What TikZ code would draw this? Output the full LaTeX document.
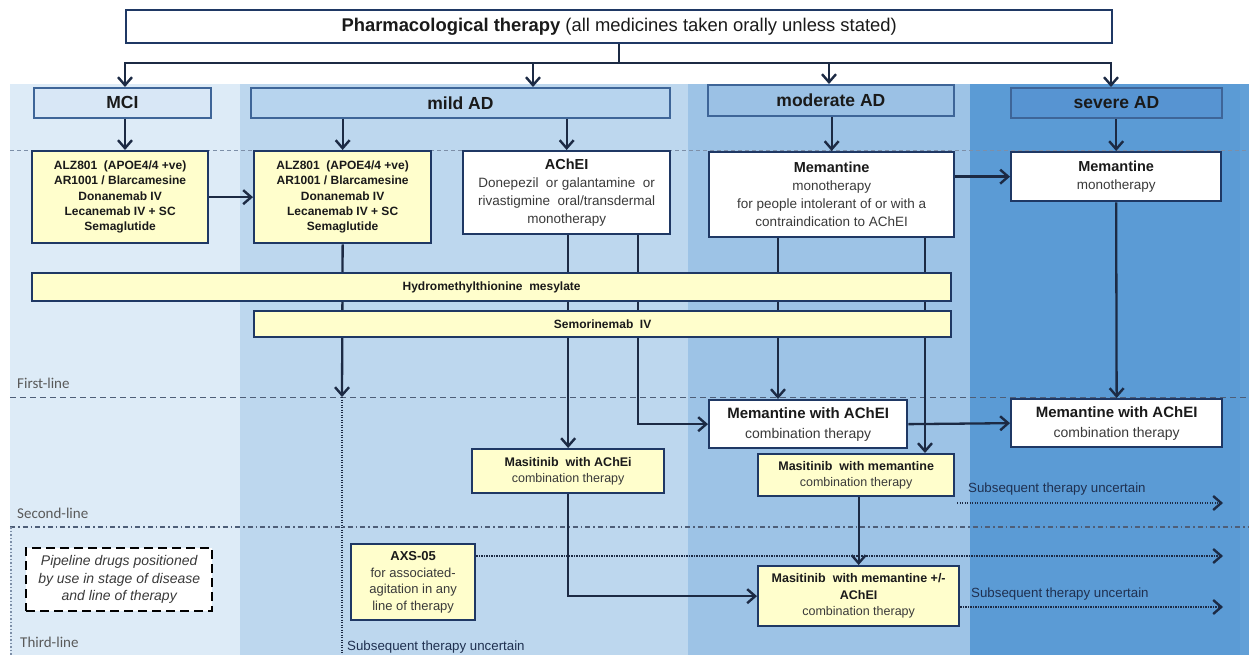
\documentclass[tikz,border=0pt]{standalone}
\usepackage{fontspec}
\setmainfont{Liberation Sans}
\newfontfamily\carl{Carlito}
\usetikzlibrary{arrows.meta}
\newcommand\myfs[2]{\fontsize{#1}{#2}\selectfont}
\definecolor{bgMCI}{HTML}{DDEBF7}
\definecolor{bgMild}{HTML}{BDD7EE}
\definecolor{bgMod}{HTML}{9DC3E6}
\definecolor{bgSev}{HTML}{5B9BD5}
\definecolor{bgEdge}{HTML}{62A0D7}
\definecolor{hMCI}{HTML}{D8E7F6}
\definecolor{hMild}{HTML}{B7D4EE}
\definecolor{hMod}{HTML}{9BC1E5}
\definecolor{hSev}{HTML}{5794D2}
\definecolor{hdrB}{HTML}{3E6598}
\definecolor{boxB}{HTML}{1F3864}
\definecolor{conC}{HTML}{1C2A44}
\definecolor{yel}{HTML}{FFFECC}
\definecolor{txt}{HTML}{1A1A1A}
\definecolor{soft}{HTML}{3A3A3A}
\definecolor{lbl}{HTML}{595959}
\definecolor{subT}{HTML}{1F3050}
\definecolor{sepA}{HTML}{7D8FA8}
\definecolor{sepB}{HTML}{4E5E78}
\tikzset{
  box/.style={draw=boxB, line width=2.3pt, anchor=north west, inner sep=1pt, align=center, text=txt},
  ybox/.style={box, fill=yel},
  wbox/.style={box, fill=white},
  hdr/.style={draw=hdrB, line width=1.8pt, anchor=north west, inner sep=0pt, font=\myfs{17.5}{20}\bfseries, text=txt},
  conn/.style={draw=conC, line width=2.3pt},
  arr/.style={conn, -{Straight Barb[length=8pt,width=14pt,line width=2.4pt]}},
  dotarr/.style={draw=conC, line width=2.3pt, dash pattern=on 1.3pt off 1.2pt, -{Straight Barb[length=8pt,width=14pt,line width=2.4pt]}},
  dotln/.style={draw=conC, line width=2.3pt, dash pattern=on 1.3pt off 1.2pt},
  linelbl/.style={anchor=base west, inner sep=0pt, font=\carl\myfs{15}{18}, text=lbl},
  sublbl/.style={anchor=base west, inner sep=0pt, font=\myfs{13.3}{16}, text=subT},
}
\begin{document}
\begin{tikzpicture}[x=1pt, y=-1pt]
\useasboundingbox (0,0) rectangle (1249,655);
\fill[white] (0,0) rectangle (1249,655);
% backgrounds
\fill[bgMCI] (10,84) rectangle (240,655);
\fill[bgMild] (240,84) rectangle (688,655);
\fill[bgMod] (688,84) rectangle (970,655);
\fill[bgSev] (970,84) rectangle (1240,655);
\fill[bgEdge] (1240,84) rectangle (1249,655);
% separators
\draw[sepA, line width=0.8pt, dash pattern=on 4pt off 3pt] (10,150) -- (1249,150);
\draw[sepB, line width=1pt, dash pattern=on 6pt off 4pt] (10,397) -- (1249,397);
\draw[sepB, line width=1.2pt, dash pattern=on 5pt off 3pt on 1.5pt off 3pt] (10,527) -- (1249,527);
\draw[sepA, line width=1.2pt, dash pattern=on 1.5pt off 2pt] (11,527) -- (11,655);
% line labels
\node[linelbl] (l1) at (17,388) {First-line};
\node[linelbl] (l2) at (17,518) {Second-line};
\node[linelbl] (l3) at (20,647) {Third-line};
% top box
\node[wbox, minimum width=986pt, minimum height=33pt, font=\myfs{18.4}{20}] (top) at (125,9)
  {{\bfseries Pharmacological therapy} (all medicines taken orally unless stated)};
% headers
\node[hdr, fill=hMCI, minimum width=177pt, minimum height=30pt] (mciH) at (33,87) {MCI};
\node[hdr, fill=hMild, minimum width=419pt, minimum height=30pt] (mildH) at (250,87) {mild AD};
\node[hdr, fill=hMod, minimum width=246pt, minimum height=31pt] (modH) at (707,84) {moderate AD};
\node[hdr, fill=hSev, minimum width=211pt, minimum height=30pt] (sevH) at (1010,87) {severe AD};
% first-line boxes
\node[ybox, minimum width=176pt, minimum height=92pt, font=\myfs{12}{15.3}\bfseries] (mciBox) at (31,150)
  {ALZ801~ (APOE4/4 +ve)\\AR1001 / Blarcamesine\\Donanemab IV\\Lecanemab IV + SC\\Semaglutide};
\node[ybox, minimum width=177pt, minimum height=92pt, font=\myfs{12}{15.3}\bfseries] (mildBox) at (253,150)
  {ALZ801~ (APOE4/4 +ve)\\AR1001 / Blarcamesine\\Donanemab IV\\Lecanemab IV + SC\\Semaglutide};
\node[wbox, minimum width=207pt, minimum height=83pt, font=\myfs{13.5}{18}, text=soft] (achei) at (462,150)
  {{\myfs{14.5}{18}\bfseries\color{txt}AChEI}\\Donepezil~ or galantamine~ or\\rivastigmine~ oral/transdermal\\monotherapy};
\node[wbox, minimum width=245pt, minimum height=85pt, font=\myfs{13.5}{18}, text=soft] (memMod) at (708,151)
  {{\myfs{14.5}{18}\bfseries\color{txt}Memantine}\\monotherapy\\for people intolerant of or with a\\contraindication to AChEI};
\node[wbox, minimum width=210pt, minimum height=49pt, font=\myfs{13.5}{18}, text=soft] (memSev) at (1010,151)
  {{\myfs{14.5}{18}\bfseries\color{txt}Memantine}\\monotherapy};
% second-line boxes
\node[wbox, minimum width=198pt, minimum height=48pt, font=\myfs{14}{20}, text=soft] (memAchei) at (708,399)
  {{\myfs{15}{20}\bfseries\color{txt}Memantine with AChEI}\\combination therapy};
\node[wbox, minimum width=211pt, minimum height=48pt, font=\myfs{14}{20}, text=soft] (sevAchei) at (1010,398)
  {{\myfs{15}{20}\bfseries\color{txt}Memantine with AChEI}\\combination therapy};
\node[ybox, minimum width=192pt, minimum height=44pt, font=\myfs{12.5}{16}, text=soft] (masA) at (471,448)
  {{\bfseries\color{txt}Masitinib~ with AChEi}\\combination therapy};
\node[ybox, minimum width=196pt, minimum height=42pt, font=\myfs{12.5}{16}, text=soft] (masMem) at (757,453)
  {{\bfseries\color{txt}Masitinib~ with memantine}\\combination therapy};
% third-line boxes
\node[ybox, minimum width=124pt, minimum height=76pt, font=\myfs{13}{16.5}, text=soft] (axs) at (350,543)
  {{\bfseries\color{txt}AXS-05}\\for associated-\\agitation in any\\line of therapy};
\node[ybox, minimum width=201pt, minimum height=60pt, font=\myfs{12.5}{16.5}, text=soft] (mas3) at (757,565)
  {{\bfseries\color{txt}Masitinib~ with memantine +/-}\\{\bfseries\color{txt}AChEI}\\combination therapy};
\node[box, fill=white, draw=black, dash pattern=on 9pt off 5pt, line width=2.4pt, minimum width=186pt, minimum height=63pt, font=\myfs{14}{17.5}\itshape, text=soft] (pipe) at (25,547)
  {Pipeline drugs positioned\\by use in stage of disease\\and line of therapy};
% coordinates
\coordinate (bL) at (125,63);
\coordinate (bR) at (1111,63);
\coordinate (bMild) at (533,63);
\coordinate (bMod) at (829,63);
\coordinate (x125) at (125,0);
\coordinate (x638) at (638,0);
\coordinate (x778) at (778,0);
\coordinate (x925) at (925,0);
\coordinate (fl342) at (342,397);
\coordinate (bot342) at (342,655);
\coordinate (s1a) at (957,503);
\coordinate (s1b) at (1223,503);
\coordinate (axsEnd) at (1223,556);
\coordinate (s3b) at (1223,607);
% top connectors
\draw[conn] (top.south) -- (top.south |- bL);
\draw[conn, line cap=rect] (bL) -- (bR);
\draw[arr] (bL) -- (bL |- mciH.north);
\draw[arr] (bMild) -- (bMild |- mildH.north);
\draw[arr] (bMod) -- (bMod |- modH.north);
\draw[arr] (bR) -- (bR |- sevH.north);
% header to boxes
\draw[arr] (mciH.south -| x125) -- (mciBox.north -| x125);
\draw[arr] (mildH.south -| mildBox.north) -- (mildBox.north);
\draw[arr] (mildH.south -| achei.north) -- (achei.north);
\draw[arr] (modH.south -| memMod.north) -- (memMod.north);
\draw[arr] (sevH.south -| memSev.north) -- (memSev.north);
% horizontal arrows
\draw[arr] (mciBox.east) -- (mildBox.west);
\draw[arr] (memMod.east |- memSev.west) -- (memSev.west);
\draw[arr] (memAchei.east) -- (sevAchei.west);
% vertical connectors (behind bars)
\draw[arr] (mildBox.south) -- (fl342);
\draw[dotln] (fl342) -- (bot342);
\draw[arr] (achei.south -| masA.north) -- (masA.north);
\draw[arr] (achei.south -| x638) |- (memAchei.west);
\draw[arr] (memMod.south -| x778) -- (memAchei.north -| x778);
\draw[arr] (memMod.south -| x925) -- (masMem.north -| x925);
\draw[arr] (memSev.south) -- (sevAchei.north);
\draw[arr] (masA.south) |- (mas3.west);
\draw[arr] (masMem.south -| mas3.north) -- (mas3.north);
% bars
\node[ybox, minimum width=919pt, minimum height=28pt, font=\myfs{12}{14}\bfseries] (hmt) at (31,272) {Hydromethylthionine~ mesylate};
\node[ybox, minimum width=697pt, minimum height=26pt, font=\myfs{12}{14}\bfseries] (sem) at (253,310) {Semorinemab~ IV};
% dotted arrows and labels
\node[sublbl] (sub1) at (968,492) {Subsequent therapy uncertain};
\node[sublbl] (sub2) at (971,597) {Subsequent therapy uncertain};
\node[sublbl] (sub3) at (347,650) {Subsequent therapy uncertain};
\draw[dotarr] (s1a) -- (s1b);
\draw[dotarr] (axs.east |- axsEnd) -- (axsEnd);
\draw[dotarr] (mas3.east |- s3b) -- (s3b);
\end{tikzpicture}
\end{document}
